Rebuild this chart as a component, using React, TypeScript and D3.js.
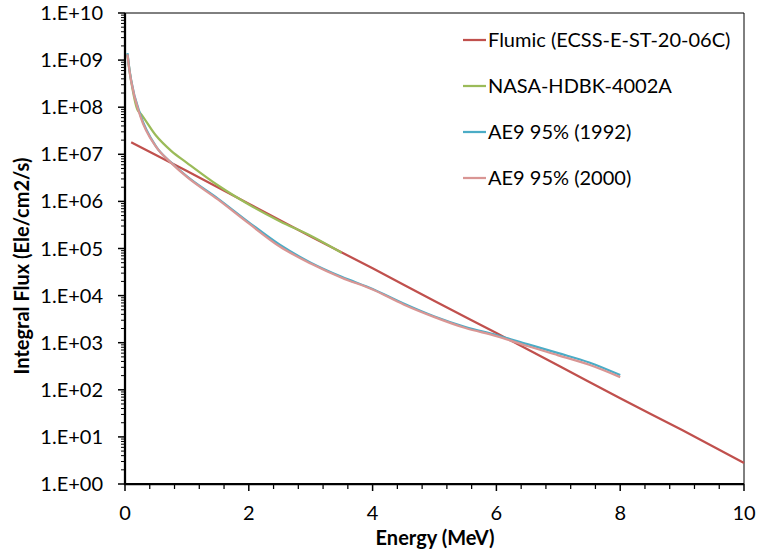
import React from 'react';
import * as d3 from 'd3';

// ---- Data ----
const flumicEnergy = [0.1, 1, 2, 3, 4, 5, 6, 7, 8, 9, 10];
const flumicFlux = [1.8e7, 4.4e6, 8.9e5, 1.8e5, 3.8e4, 7.7e3, 1.6e3, 3.3e2, 66, 14, 2.8];

const nasaEnergy = [0.04, 0.07, 0.1, 0.2, 0.25, 0.5, 0.75, 1.0, 1.5, 2.0, 2.5, 3.0, 3.5];
const nasaFlux = [1.32e9, 6.3e8, 3.55e8, 8.9e7, 7.4e7, 2.5e7, 1.17e7, 6.6e6, 2.2e6, 8.6e5, 3.8e5, 1.86e5, 8.1e4];

const ae9Energy = [0.04, 0.07, 0.1, 0.25, 0.5, 0.75, 1, 1.5, 2, 2.5, 3, 3.5, 4, 4.5, 5, 5.5, 6, 6.5, 7, 7.5, 8];
const ae9Flux1992 = [1.41e9, 6.6e8, 3.7e8, 6.8e7, 1.48e7, 6.6e6, 3.4e6, 1.15e6, 3.6e5, 1.2e5, 5.0e4, 2.5e4, 1.38e4, 6.8e3, 3.6e3, 2.15e3, 1.45e3, 930, 600, 380, 205];
const ae9Flux2000 = [1.32e9, 6.3e8, 3.55e8, 6.3e7, 1.45e7, 6.5e6, 3.3e6, 1.1e6, 3.4e5, 1.1e5, 4.8e4, 2.4e4, 1.35e4, 6.5e3, 3.5e3, 2.05e3, 1.38e3, 850, 540, 340, 186];

const seriesNames = ['Flumic (ECSS-E-ST-20-06C)', 'NASA-HDBK-4002A', 'AE9 95% (1992)', 'AE9 95% (2000)'];
const seriesColors = ['#C0504D', '#9BBB59', '#4BACC6', '#D99694'];

const xTickValues = [0, 2, 4, 6, 8, 10];
const yTickValues = [1e0, 1e1, 1e2, 1e3, 1e4, 1e5, 1e6, 1e7, 1e8, 1e9, 1e10];
const yTickLabels = ['1.E+00', '1.E+01', '1.E+02', '1.E+03', '1.E+04', '1.E+05', '1.E+06', '1.E+07', '1.E+08', '1.E+09', '1.E+10'];

const xTitle = 'Energy (MeV)';
const yTitle = 'Integral Flux (Ele/cm2/s)';

export default function App() {
  const W = 757, H = 549;
  const left = 125, right = 744, top = 13, bottom = 484;
  const font = 'Lato, "Open Sans", sans-serif';

  const x = d3.scaleLinear().domain([0, 10]).range([left, right]);
  const y = d3.scaleLog().domain([1, 1e10]).range([bottom, top]);

  const line = d3.line<[number, number]>()
    .x(d => x(d[0]))
    .y(d => y(d[1]))
    .curve(d3.curveMonotoneX);

  const series: [number, number][][] = [
    flumicEnergy.map((e, i) => [e, flumicFlux[i]] as [number, number]),
    nasaEnergy.map((e, i) => [e, nasaFlux[i]] as [number, number]),
    ae9Energy.map((e, i) => [e, ae9Flux1992[i]] as [number, number]),
    ae9Energy.map((e, i) => [e, ae9Flux2000[i]] as [number, number]),
  ];

  const xMinor = d3.range(0, 10.001, 0.4).filter(v => Math.abs(v / 2 - Math.round(v / 2)) > 1e-6);
  const yMinor: number[] = [];
  for (let d = 0; d < 10; d++) for (let k = 2; k <= 9; k++) yMinor.push(k * Math.pow(10, d));

  const legendX = 463, legendY0 = 40, legendDy = 46;

  return (
    <svg width={W} height={H} style={{ position: 'absolute', left: 0, top: 0, background: '#fff' }}>
      <rect x={0} y={0} width={W} height={H} fill="#fff" />
      {/* plot border */}
      <line x1={left} x2={right} y1={top} y2={top} stroke="#000" strokeWidth={1} />
      <line x1={right} x2={right} y1={top} y2={bottom} stroke="#000" strokeWidth={1} />

      {/* series */}
      {series.map((s, i) => (
        <path key={i} d={line(s) || ''} fill="none" stroke={seriesColors[i]} strokeWidth={2.25} strokeLinejoin="round" />
      ))}

      {/* y axis */}
      {yMinor.map((v, i) => (
        <line key={'ym' + i} x1={left - 4} x2={left} y1={y(v)} y2={y(v)} stroke="#000" strokeWidth={1} />
      ))}
      {yTickValues.map((v, i) => (
        <g key={'yt' + i}>
          <line x1={left - 7} x2={left} y1={y(v)} y2={y(v)} stroke="#000" strokeWidth={1.5} />
          <text x={103} y={y(v)} dy="0.35em" textAnchor="end" fontFamily={font} fontSize={20} fill="#000">{yTickLabels[i]}</text>
        </g>
      ))}
      <line x1={left} x2={left} y1={top} y2={bottom + 1} stroke="#000" strokeWidth={2.25} />

      {/* x axis */}
      {xMinor.map((v, i) => (
        <line key={'xm' + i} x1={x(v)} x2={x(v)} y1={bottom} y2={bottom + 5} stroke="#000" strokeWidth={1.25} />
      ))}
      {xTickValues.map((v, i) => (
        <g key={'xt' + i}>
          <line x1={x(v)} x2={x(v)} y1={bottom} y2={bottom + 7} stroke="#000" strokeWidth={1.5} />
          <text x={x(v)} y={513} dy="0.35em" textAnchor="middle" fontFamily={font} fontSize={20} fill="#000">{String(v)}</text>
        </g>
      ))}
      <line x1={left - 1} x2={right} y1={bottom} y2={bottom} stroke="#000" strokeWidth={2.25} />

      {/* titles */}
      <text x={435} y={538} dy="0.35em" textAnchor="middle" fontFamily={font} fontSize={20} fontWeight="bold" fill="#000">{xTitle}</text>
      <text transform={`translate(22,266) rotate(-90)`} dy="0.35em" textAnchor="middle" fontFamily={font} fontSize={20} fontWeight="bold" fill="#000">{yTitle}</text>

      {/* legend */}
      {seriesNames.map((n, i) => (
        <g key={'lg' + i}>
          <line x1={legendX} x2={legendX + 23} y1={legendY0 + i * legendDy} y2={legendY0 + i * legendDy} stroke={seriesColors[i]} strokeWidth={2.25} />
          <text x={legendX + 25} y={legendY0 + i * legendDy} dy="0.35em" fontFamily={font} fontSize={20} fill="#000">{n}</text>
        </g>
      ))}
    </svg>
  );
}
